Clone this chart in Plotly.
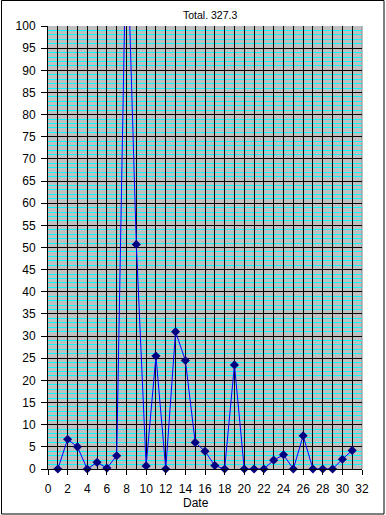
import numpy as np
import plotly.graph_objects as go

# ---- data ----
dates = list(range(1, 32))
rain = [0, 6.7, 5.0, 0, 1.5, 0.2, 3.0, 125.1, 50.7, 0.7,
        25.5, 0, 31.0, 24.5, 6.0, 4.0, 0.8, 0, 23.5, 0,
        0, 0, 2.0, 3.2, 0, 7.5, 0, 0, 0, 2.2, 4.2]
title_text = "Total. 327.3"
x_title = "Date"
x_tickvals = list(range(0, 33, 2))
y_max = 100

d = np.array(dates)
r = np.array(rain)
vis = r <= y_max

FONT = "Liberation Sans, Arial, sans-serif"
TFS = 12

fig = go.Figure()
fig.add_trace(go.Scatter(x=d, y=r, mode="lines",
                         line=dict(color="#0000FF", width=1),
                         xaxis="x", yaxis="y", showlegend=False, hoverinfo="skip"))
fig.add_trace(go.Scatter(x=d[vis], y=r[vis], mode="markers",
                         marker=dict(symbol="diamond", size=7, color="#000080"),
                         cliponaxis=False, xaxis="x2", yaxis="y", showlegend=False))

L, R, T, B = 48, 24, 26, 46
W, H = 386, 515
pw, ph = W - L - R, H - T - B

def px_x(p):
    return (p - L) / pw

def px_y(p):
    return (H - B - p) / ph

fig.update_layout(
    width=W, height=H,
    margin=dict(l=L, r=R, t=T, b=B, pad=0),
    paper_bgcolor="white", plot_bgcolor="#C0C0C0",
    font=dict(family=FONT, size=TFS, color="black"),
    xaxis=dict(range=[0, 32], dtick=1, tick0=0, showticklabels=False, ticks="",
               showgrid=True, gridcolor="black", gridwidth=1,
               zeroline=False, showline=True, linecolor="black", linewidth=1),
    xaxis2=dict(range=[0, 32], overlaying="x", side="bottom", anchor="y",
                tickmode="array", tickvals=x_tickvals,
                ticks="outside", ticklen=5, tickcolor="black", tickwidth=1,
                ticklabelstandoff=4,
                showgrid=False, zeroline=False, showline=False,
                tickfont=dict(family=FONT, size=TFS, color="black")),
    yaxis=dict(range=[0, y_max], dtick=5, tick0=0,
               ticks="outside", ticklen=6, tickcolor="black", tickwidth=1,
               ticklabelstandoff=3,
               showgrid=True, gridcolor="black", gridwidth=1,
               minor=dict(dtick=1, showgrid=True, gridcolor="#00FFFF", gridwidth=1),
               zeroline=False, showline=True, linecolor="black", linewidth=1,
               tickfont=dict(family=FONT, size=TFS, color="black")),
    annotations=[
        dict(text=title_text, x=px_x(209.5), y=px_y(15), xref="paper", yref="paper",
             xanchor="center", yanchor="middle", showarrow=False,
             font=dict(family=FONT, size=10.5, color="black")),
        dict(text=x_title, x=px_x(195.5), y=px_y(503), xref="paper", yref="paper",
             xanchor="center", yanchor="middle", showarrow=False,
             font=dict(family=FONT, size=TFS, color="black")),
    ],
    shapes=[
        dict(type="rect", xref="paper", yref="paper",
             x0=px_x(1.5), x1=px_x(384), y0=px_y(514), y1=px_y(0.5),
             line=dict(color="black", width=1), fillcolor="rgba(0,0,0,0)", layer="above"),
        dict(type="line", xref="paper", yref="paper",
             x0=1, x1=1, y0=0, y1=1, line=dict(color="#808080", width=1), layer="below"),
    ],
)

fig.write_html("out.html")
